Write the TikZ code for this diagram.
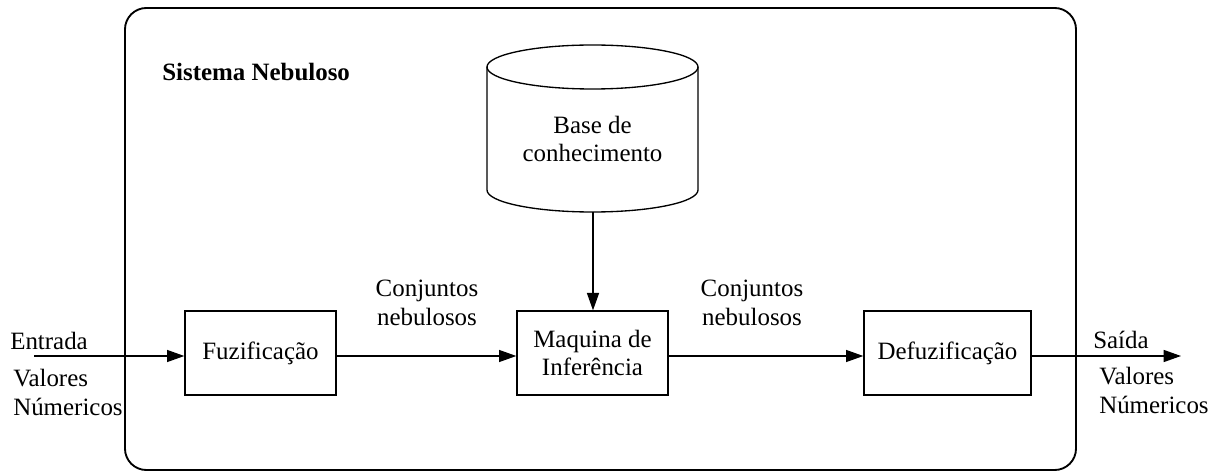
\documentclass[tikz,border=0pt]{standalone}
\usepackage{fontspec}
\setmainfont{Liberation Serif}
\usetikzlibrary{arrows.meta}
\begin{document}
\begin{tikzpicture}[x=0.75pt,y=-0.75pt,
  every node/.style={font=\fontsize{18.7}{21.5}\selectfont, inner sep=0pt, align=center},
  blk/.style={draw, line width=1pt, minimum width=151*0.75pt, minimum height=84*0.75pt},
  conn/.style={line width=1pt, -{Triangle[length=13pt,width=9pt]}},
  lbl/.style={align=left}]
\useasboundingbox (0,0) rectangle (1222,474);
% outer system frame
\draw[line width=1.4pt, rounded corners=16pt] (125,8) rectangle (1076,470);
\node[font=\fontsize{18.7}{21.5}\selectfont\bfseries, anchor=west] (title) at (162,72) {Sistema Nebuloso};
% knowledge base cylinder
\draw[line width=1pt] (487,67) -- (487,190) arc[start angle=180, end angle=360, x radius=105.5, y radius=-22] -- (698,67);
\draw[line width=1pt] (592.5,67) ellipse[x radius=105.5, y radius=22];
\node (kbtext) at (592.5,139) {Base de\\conhecimento};
\coordinate (kb) at (593,212);
% blocks
\node[blk] (fuz) at (260.5,353) {Fuzificação};
\node[blk] (inf) at (592.5,353) {Maquina de\\Inferência};
\node[blk, minimum width=167*0.75pt] (defuz) at (947.5,353) {Defuzificação};
\coordinate (in) at (34,356);
\coordinate (out) at (1181,356);
% connectors
\draw[conn] (in) -- (in -| fuz.west);
\draw[conn] (fuz.east |- in) -- (inf.west |- in);
\draw[conn] (inf.east |- in) -- (defuz.west |- in);
\draw[conn] (defuz.east |- in) -- (out);
\draw[conn] (kb) -- (kb |- inf.north);
% labels
\node[anchor=west] (entrada) at (10,341) {Entrada};
\node[lbl, anchor=north west] (vin) at (13,369) {Valores\\Númericos};
\node (c1) at (427,303) {Conjuntos\\nebulosos};
\node (c2) at (752,303) {Conjuntos\\nebulosos};
\node[anchor=west] (saida) at (1093,340) {Saída};
\node[lbl, anchor=north west] (vout) at (1099,367) {Valores\\Númericos};
\end{tikzpicture}
\end{document}
